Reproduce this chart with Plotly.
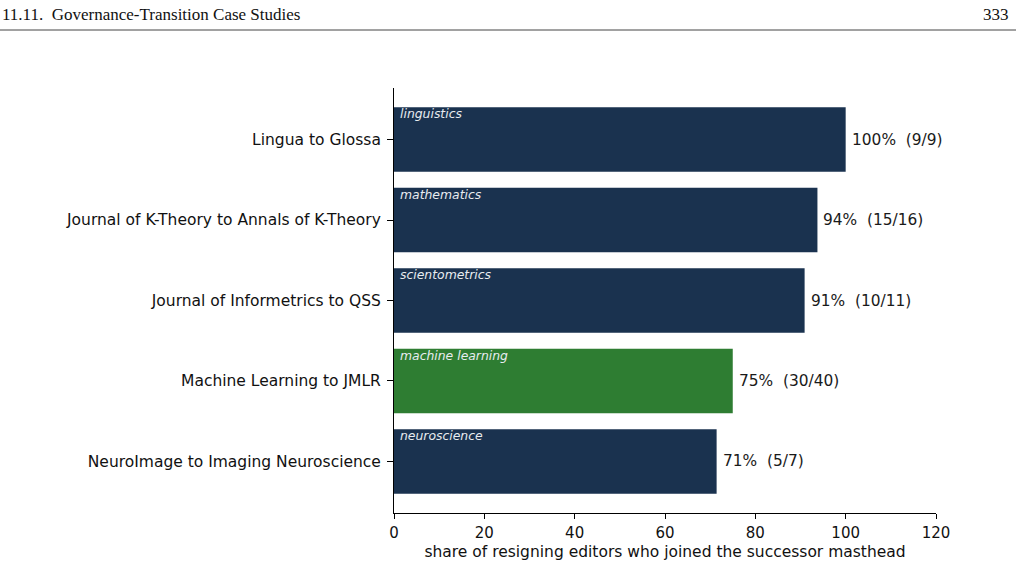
import plotly.graph_objects as go

transitions = [
    "Lingua to Glossa",
    "Journal of K-Theory to Annals of K-Theory",
    "Journal of Informetrics to QSS",
    "Machine Learning to JMLR",
    "NeuroImage to Imaging Neuroscience",
]
fields = ["linguistics", "mathematics", "scientometrics", "machine learning", "neuroscience"]
joined = [9, 15, 10, 30, 5]
resigned = [9, 16, 11, 40, 7]
highlight = [False, False, False, True, False]

NAVY = "#1a324f"
GREEN = "#2e7d32"

shares = [100.0 * j / r for j, r in zip(joined, resigned)]
pos = list(range(len(transitions)))
colors = [GREEN if h else NAVY for h in highlight]

fig = go.Figure()
fig.add_trace(go.Bar(
    x=shares, y=pos, orientation="h", width=0.8,
    marker=dict(color=colors, line=dict(width=0)),
    hoverinfo="skip", showlegend=False,
))

for p, s, j, r, f in zip(pos, shares, joined, resigned, fields):
    fig.add_annotation(x=s, y=p, text=f"{s:.0f}%\u00a0\u00a0({j}/{r})", showarrow=False,
                       xanchor="left", yanchor="middle", xshift=4,
                       font=dict(family="DejaVu Sans", size=15.4, color="#1a1a1a"))
    fig.add_annotation(x=0, y=p - 0.4, text=f"<i>{f}</i>", showarrow=False,
                       xanchor="left", yanchor="top", xshift=4, yshift=3,
                       font=dict(family="DejaVu Sans", size=12.4, color="#e8ecf0"))

# page header
fig.add_annotation(xref="paper", yref="paper", x=-394/542, y=1 + (88 - 14) / 425,
                   text="11.11.  Governance-Transition Case Studies", showarrow=False,
                   xanchor="left", yanchor="middle",
                   font=dict(family="Liberation Serif", size=17, color="#111"))
fig.add_annotation(xref="paper", yref="paper", x=(1011 - 394) / 542, y=1 + (88 - 14) / 425,
                   text="333", showarrow=False, xanchor="right", yanchor="middle",
                   font=dict(family="Liberation Serif", size=17, color="#111"))
fig.add_shape(type="line", xref="paper", yref="paper",
              x0=-394/542, x1=(1016 - 394) / 542,
              y0=1 + (88 - 30) / 425, y1=1 + (88 - 30) / 425,
              line=dict(color="#444", width=1))

fig.update_layout(
    width=1016, height=570,
    margin=dict(l=394, r=80, t=88, b=57),
    paper_bgcolor="white", plot_bgcolor="white",
    font=dict(family="DejaVu Sans", size=15, color="#111"),
    bargap=0.2,
)
fig.update_xaxes(range=[0, 120], tickvals=[0, 20, 40, 60, 80, 100, 120],
                 showline=True, linecolor="black", linewidth=1,
                 ticks="outside", ticklen=5, tickcolor="black",
                 showgrid=False, zeroline=False, ticklabelstandoff=1,
                 title=dict(text="share of resigning editors who joined the successor masthead",
                            font=dict(size=15.5), standoff=5),
                 tickfont=dict(size=15))
fig.update_yaxes(range=[4.64, -0.64], tickvals=pos, ticktext=transitions,
                 showline=True, linecolor="black", linewidth=1,
                 ticks="outside", ticklen=6, tickcolor="black", ticklabelstandoff=3,
                 showgrid=False, zeroline=False, tickfont=dict(size=15.5))

fig.write_html("out.html")
